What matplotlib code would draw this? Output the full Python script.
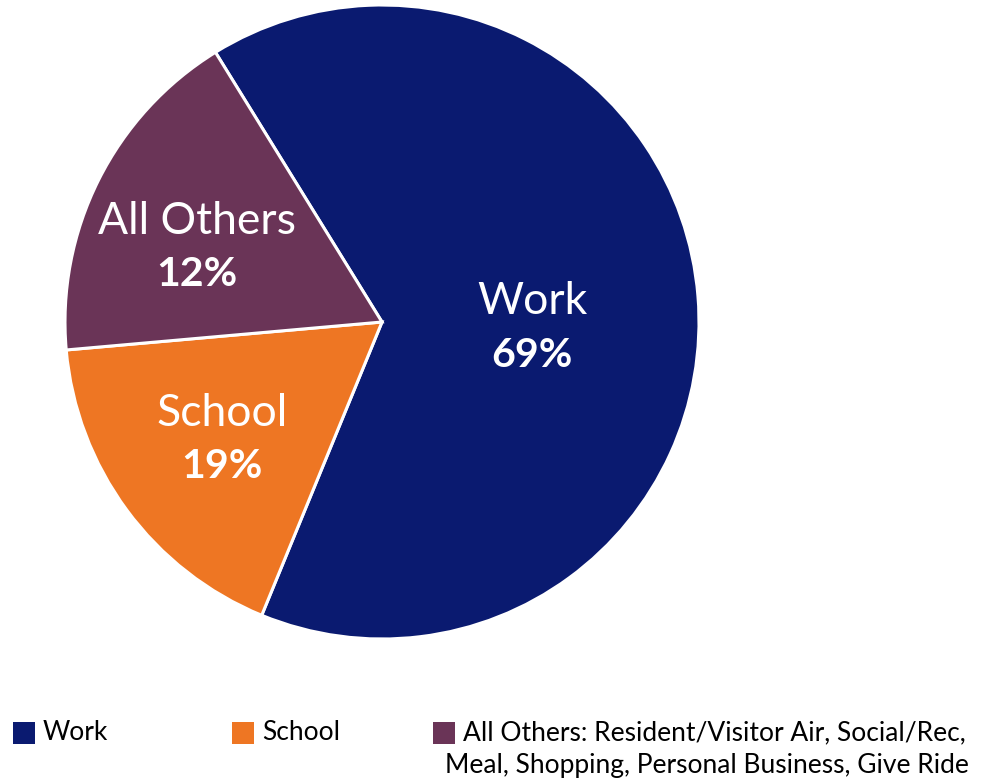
import matplotlib
matplotlib.use("Agg")
import matplotlib.pyplot as plt
from matplotlib.patches import Rectangle

# Data
categories = ["Work", "School", "All Others"]
shares = [65.0, 17.4, 17.6]          # drawn wedge sizes as they appear in the picture
pct_labels = ["69%", "19%", "12%"]   # printed labels
colors = ["#0A1A70", "#EE7623", "#6A3457"]
legend_labels = ["Work", "School",
                 "All Others: Resident/Visitor Air, Social/Rec,\nMeal, Shopping, Personal Business, Give Ride"]

W, H = 991, 781
fig = plt.figure(figsize=(W / 100, H / 100), dpi=100)
fig.patch.set_facecolor("white")

cx, cy, r = 382, 322, 317
ax = fig.add_axes([(cx - r) / W, (H - cy - r) / H, 2 * r / W, 2 * r / H])
wedges, _ = ax.pie(shares, colors=colors, startangle=121.7, counterclock=False,
                   radius=1.0, wedgeprops=dict(edgecolor="white", linewidth=2.2))
ax.set_xlim(-1, 1)
ax.set_ylim(-1, 1)
ax.set_aspect("equal")
ax.axis("off")

font = "Lato"

def px(x, y):
    return x / W, 1 - y / H

# slice labels (name + percentage)
label_pos = [(532, 302, 355), (222, 413, 466), (197, 222, 275)]
for name, pct, (x, y1, y2) in zip(categories, pct_labels, label_pos):
    fig.text(*px(x, y1), name, color="white", fontsize=32, family=font,
             ha="center", va="center")
    fig.text(*px(x, y2), pct, color="white", fontsize=29.5, family=font,
             fontweight="bold", ha="center", va="center")

# legend
sq = 22
legend_items = [(13, 43), (232, 262), (433, 463)]
for (sx, tx), lab, col in zip(legend_items, legend_labels, colors):
    fig.patches.append(Rectangle(((sx) / W, 1 - (722 + sq) / H), sq / W, sq / H,
                                 transform=fig.transFigure, facecolor=col,
                                 edgecolor="none"))
    lines = lab.split("\n")
    fig.text(*px(tx, 733), lines[0], fontsize=19, family=font,
             color="black", ha="left", va="center")
    if len(lines) > 1:
        fig.text(*px(445, 765), lines[1], fontsize=19, family=font,
                 color="black", ha="left", va="center")

fig.savefig("out.png", dpi=100, facecolor="white")
